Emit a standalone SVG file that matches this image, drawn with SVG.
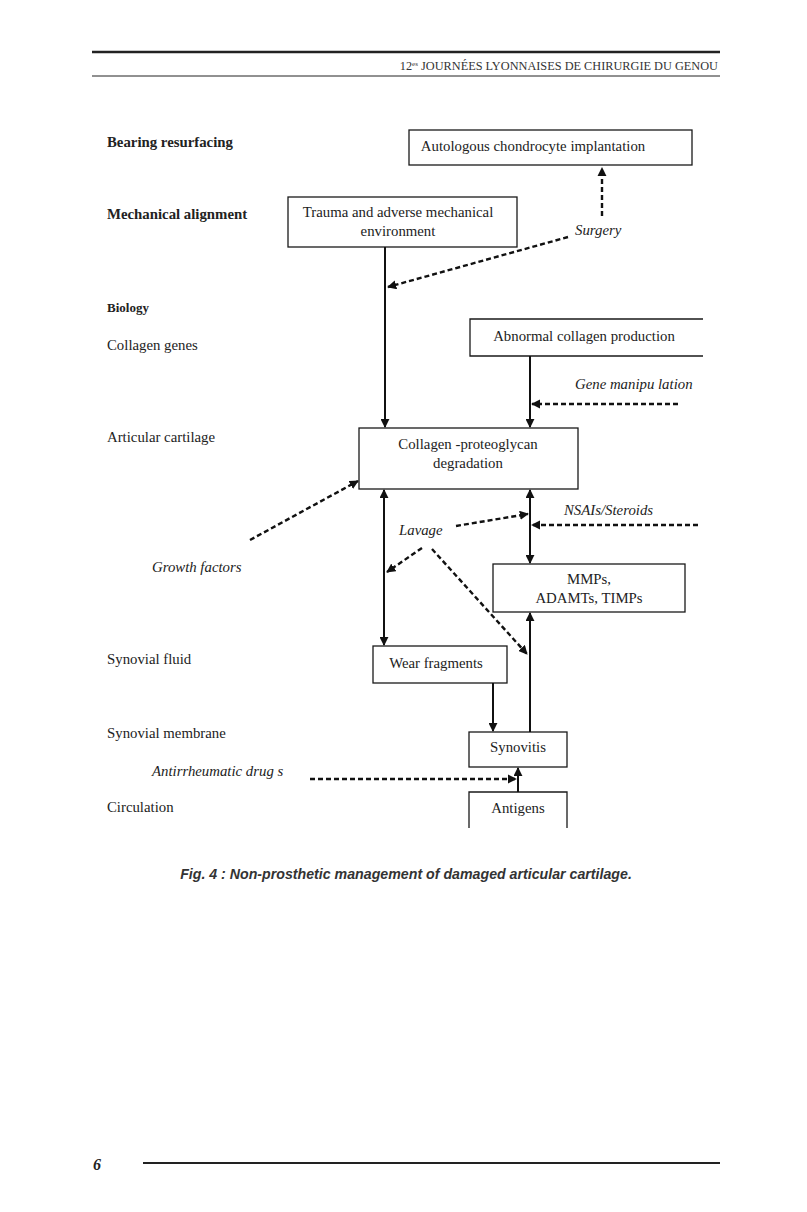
<svg xmlns="http://www.w3.org/2000/svg" width="807" height="1212" viewBox="0 0 807 1212">
<style>
  .bg{fill:#fff}
  .box{fill:#fff;stroke:#1a1a1a;stroke-width:1.3}
  .open{fill:none;stroke:#1a1a1a;stroke-width:1.3}
  .t{font-family:"Liberation Serif","Times New Roman",serif;font-size:14.8px;fill:#222}
  .b{font-weight:bold}
  .i{font-style:italic}
  .c{text-anchor:middle}
  .solid{fill:none;stroke:#111;stroke-width:2}
  .dash{fill:none;stroke:#111;stroke-width:2.4;stroke-dasharray:5 3}
  .rule{stroke:#222}
</style>
<defs>
  <marker id="ah" viewBox="0 0 10 10" refX="9" refY="5" markerWidth="4.5" markerHeight="4.5" orient="auto-start-reverse" markerUnits="strokeWidth">
    <path d="M0,0 L10,5 L0,10 z" fill="#111"/>
  </marker>
  <marker id="ahd" viewBox="0 0 10 10" refX="9" refY="5" markerWidth="3.8" markerHeight="3.8" orient="auto" markerUnits="strokeWidth">
    <path d="M0,0 L10,5 L0,10 z" fill="#111"/>
  </marker>
</defs>
<rect class="bg" width="807" height="1212"/>

<g id="header">
  <line class="rule" x1="92" y1="52" x2="720" y2="52" stroke-width="2.5"/>
  <text x="718" y="70" text-anchor="end" style="font-family:'Liberation Serif',serif;font-size:12.3px;fill:#333">12<tspan font-size="7" dy="-4">es</tspan><tspan dy="4"> JOURNÉES LYONNAISES DE CHIRURGIE DU GENOU</tspan></text>
  <line class="rule" x1="92" y1="76" x2="720" y2="76" stroke-width="1"/>
</g>

<g id="row-labels">
  <text class="t b" x="107" y="147">Bearing resurfacing</text>
  <text class="t b" x="107" y="219">Mechanical alignment</text>
  <text class="t b" x="107" y="312" style="font-size:13px">Biology</text>
  <text class="t" x="107" y="350">Collagen genes</text>
  <text class="t" x="107" y="442">Articular cartilage</text>
  <text class="t" x="107" y="664">Synovial fluid</text>
  <text class="t" x="107" y="738">Synovial membrane</text>
  <text class="t" x="107" y="812">Circulation</text>
</g>

<g id="node-aci">
  <rect class="box" x="409" y="130" width="283" height="35"/>
  <text class="t c" x="533" y="151">Autologous chondrocyte implantation</text>
</g>
<g id="node-trauma">
  <rect class="box" x="288" y="197" width="229" height="50"/>
  <text class="t c" x="398" y="217">Trauma and adverse mechanical</text>
  <text class="t c" x="398" y="236">environment</text>
</g>
<g id="node-abnormal">
  <path class="open" d="M703,319 H470 V356 H703"/>
  <text class="t c" x="584" y="341">Abnormal collagen production</text>
</g>
<g id="node-collagen">
  <rect class="box" x="359" y="428" width="219" height="61"/>
  <text class="t c" x="468" y="449">Collagen -proteoglycan</text>
  <text class="t c" x="468" y="468">degradation</text>
</g>
<g id="node-mmps">
  <rect class="box" x="493" y="564" width="192" height="48"/>
  <text class="t c" x="589" y="584">MMPs,</text>
  <text class="t c" x="589" y="603">ADAMTs, TIMPs</text>
</g>
<g id="node-wear">
  <rect class="box" x="373" y="646" width="134" height="37"/>
  <text class="t c" x="436" y="668">Wear fragments</text>
</g>
<g id="node-synovitis">
  <rect class="box" x="469" y="732" width="98" height="35"/>
  <text class="t c" x="518" y="752">Synovitis</text>
</g>
<g id="node-antigens">
  <path class="open" d="M469,828 V792 H567 V828"/>
  <text class="t c" x="518" y="813">Antigens</text>
</g>

<g id="treatment-labels">
  <text class="t i" x="575" y="235">Surgery</text>
  <text class="t i" x="575" y="389">Gene manipu lation</text>
  <text class="t i" x="564" y="515">NSAIs/Steroids</text>
  <text class="t i" x="399" y="535">Lavage</text>
  <text class="t i" x="152" y="572">Growth factors</text>
  <text class="t i" x="152" y="776">Antirrheumatic drug   s</text>
</g>

<g id="connectors">
  <line class="solid" x1="385" y1="247" x2="385" y2="427" marker-end="url(#ah)"/>
  <line class="solid" x1="530" y1="356" x2="530" y2="427" marker-end="url(#ah)"/>
  <line class="solid" x1="384" y1="490" x2="384" y2="645" marker-start="url(#ah)" marker-end="url(#ah)"/>
  <line class="solid" x1="530" y1="490" x2="530" y2="563" marker-start="url(#ah)" marker-end="url(#ah)"/>
  <line class="solid" x1="530" y1="732" x2="530" y2="613" marker-end="url(#ah)"/>
  <line class="solid" x1="493" y1="683" x2="493" y2="731" marker-end="url(#ah)"/>
  <line class="solid" x1="518" y1="792" x2="518" y2="768" marker-end="url(#ah)"/>

  <line class="dash" x1="602" y1="216" x2="602" y2="168" marker-end="url(#ahd)"/>
  <line class="dash" x1="568" y1="237" x2="388" y2="287" marker-end="url(#ahd)"/>
  <line class="dash" x1="678" y1="404" x2="532" y2="404" marker-end="url(#ahd)"/>
  <line class="dash" x1="250" y1="540" x2="358" y2="481" marker-end="url(#ahd)"/>
  <line class="dash" x1="456" y1="526" x2="528" y2="514" marker-end="url(#ahd)"/>
  <line class="dash" x1="698" y1="525" x2="532" y2="525" marker-end="url(#ahd)"/>
  <line class="dash" x1="422" y1="548" x2="387" y2="572" marker-end="url(#ahd)"/>
  <line class="dash" x1="432" y1="549" x2="527" y2="654" marker-end="url(#ahd)"/>
  <line class="dash" x1="310" y1="779" x2="516" y2="779" marker-end="url(#ahd)"/>
</g>

<g id="caption">
  <text x="406" y="879" text-anchor="middle" style="font-family:'Liberation Sans',Arial,sans-serif;font-size:14.2px;font-weight:bold;font-style:italic;fill:#333">Fig. 4 : Non-prosthetic management of damaged articular cartilage.</text>
</g>

<g id="footer">
  <text x="93" y="1170" style="font-family:'Liberation Serif',serif;font-size:16px;font-weight:bold;font-style:italic;fill:#222">6</text>
  <line class="rule" x1="143" y1="1163" x2="720" y2="1163" stroke-width="2"/>
</g>
</svg>
